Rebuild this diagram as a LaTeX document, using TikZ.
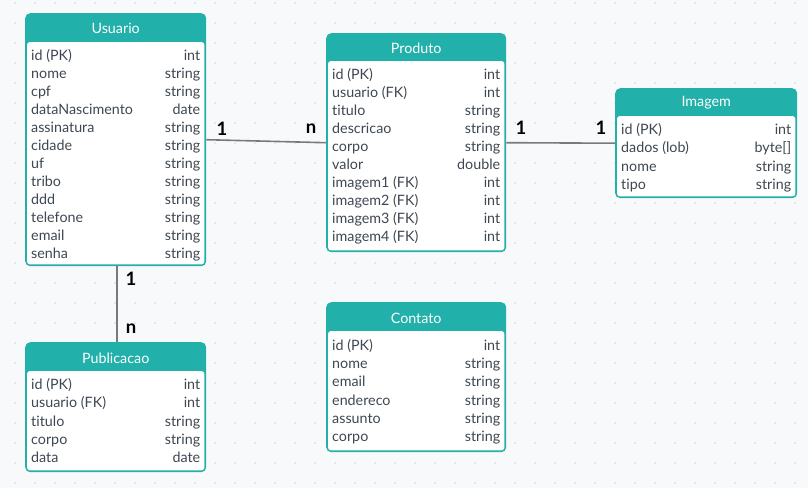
\documentclass[tikz,border=0pt]{standalone}
\usepackage{fontspec}
\setmainfont{Lato}[Ligatures=NoCommon]
\definecolor{tealc}{HTML}{22B0AA}
\definecolor{txtc}{HTML}{3E4752}
\definecolor{bgc}{HTML}{F8F9FB}
\definecolor{dotc}{HTML}{D3D7DC}
\definecolor{relc}{HTML}{7A7A7A}
\tikzset{
  tbl/.style={fill=tealc, rounded corners=5pt, inner sep=0pt, anchor=north west},
  hdr/.style={text=white, inner sep=0pt, font=\fontsize{14.3}{16}\selectfont},
  fld/.style={anchor=west, inner sep=0pt, text=txtc, text height=10pt, text depth=3pt, font=\fontsize{14.3}{16}\selectfont},
  typ/.style={fld, anchor=east},
  rel/.style={draw=relc, line width=1.6pt},
  lbl/.style={inner sep=0pt, font=\fontsize{18.5}{20}\selectfont\bfseries}
}
\begin{document}
\begin{tikzpicture}[x=1pt,y=-1pt]
    % background
    \fill[bgc] (0,0) rectangle (808,488);
    \foreach \x in {15,35,...,795}
      \foreach \y in {3,23,...,483}
        \fill[dotc] (\x,\y) circle (0.9);
    % Usuario
    \node[tbl, minimum width=181pt, minimum height=253pt] (usuario) at (25,13) {};
    \fill[white, rounded corners=3pt] ([xshift=2pt,yshift=-29pt]usuario.north west) rectangle ([xshift=-2pt,yshift=2pt]usuario.south east);
    \node[hdr] (usuario-h) at ([yshift=-15pt]usuario.north) {Usuario};
    \foreach \f/\t [count=\i] in {id (PK)/int, nome/string, cpf/string, dataNascimento/date, assinatura/string, cidade/string, uf/string, tribo/string, ddd/string, telefone/string, email/string, senha/string} {
      \node[fld] at ([xshift=6pt,yshift={-44-(\i-1)*18}]usuario.north west) {\f};
      \node[typ] at ([xshift=-6pt,yshift={-44-(\i-1)*18}]usuario.north east) {\t};
    }
    % Produto
    \node[tbl, minimum width=180pt, minimum height=219pt] (produto) at (326,33) {};
    \fill[white, rounded corners=3pt] ([xshift=2pt,yshift=-28pt]produto.north west) rectangle ([xshift=-2pt,yshift=2pt]produto.south east);
    \node[hdr] (produto-h) at ([yshift=-15pt]produto.north) {Produto};
    \foreach \f/\t [count=\i] in {id (PK)/int, usuario (FK)/int, titulo/string, descricao/string, corpo/string, valor/double, imagem1 (FK)/int, imagem2 (FK)/int, imagem3 (FK)/int, imagem4 (FK)/int} {
      \node[fld] at ([xshift=6pt,yshift={-43-(\i-1)*18}]produto.north west) {\f};
      \node[typ] at ([xshift=-6pt,yshift={-43-(\i-1)*18}]produto.north east) {\t};
    }
    % Imagem
    \node[tbl, minimum width=182pt, minimum height=110pt] (imagem) at (615,88) {};
    \fill[white, rounded corners=3pt] ([xshift=2pt,yshift=-28pt]imagem.north west) rectangle ([xshift=-2pt,yshift=2pt]imagem.south east);
    \node[hdr] (imagem-h) at ([yshift=-15pt]imagem.north) {Imagem};
    \foreach \f/\t [count=\i] in {id (PK)/int, dados (lob)/{byte[]}, nome/string, tipo/string} {
      \node[fld] at ([xshift=6pt,yshift={-43-(\i-1)*18.3}]imagem.north west) {\f};
      \node[typ] at ([xshift=-6pt,yshift={-43-(\i-1)*18.3}]imagem.north east) {\t};
    }
    % Contato
    \node[tbl, minimum width=180pt, minimum height=150pt] (contato) at (326,302) {};
    \fill[white, rounded corners=3pt] ([xshift=2pt,yshift=-29pt]contato.north west) rectangle ([xshift=-2pt,yshift=2pt]contato.south east);
    \node[hdr] (contato-h) at ([yshift=-16pt]contato.north) {Contato};
    \foreach \f/\t [count=\i] in {id (PK)/int, nome/string, email/string, endereco/string, assunto/string, corpo/string} {
      \node[fld] at ([xshift=6pt,yshift={-45-(\i-1)*18.2}]contato.north west) {\f};
      \node[typ] at ([xshift=-6pt,yshift={-45-(\i-1)*18.2}]contato.north east) {\t};
    }
    % Publicacao
    \node[tbl, minimum width=181pt, minimum height=130pt] (publicacao) at (25,342) {};
    \fill[white, rounded corners=3pt] ([xshift=2pt,yshift=-29pt]publicacao.north west) rectangle ([xshift=-2pt,yshift=2pt]publicacao.south east);
    \node[hdr] (publicacao-h) at ([yshift=-16pt]publicacao.north) {Publicacao};
    \foreach \f/\t [count=\i] in {id (PK)/int, usuario (FK)/int, titulo/string, corpo/string, data/date} {
      \node[fld] at ([xshift=6pt,yshift={-44-(\i-1)*18.3}]publicacao.north west) {\f};
      \node[typ] at ([xshift=-6pt,yshift={-44-(\i-1)*18.3}]publicacao.north east) {\t};
    }
    % relations
    \draw[rel] (usuario.east) -- (produto.west);
    \draw[rel] (produto.east) -- (imagem.west);
    \draw[rel] ([xshift=1.5pt]usuario.south) -- ([xshift=1.5pt]publicacao.north);
    \node[lbl] (up-1) at (222,129) {1};
    \node[lbl] (up-n) at (311,129) {n};
    \node[lbl] (pi-1) at (521,128) {1};
    \node[lbl] (pi-2) at (601,128) {1};
    \node[lbl] (upb-1) at (131,279) {1};
    \node[lbl] (upb-n) at (131,329) {n};
\end{tikzpicture}
\end{document}
